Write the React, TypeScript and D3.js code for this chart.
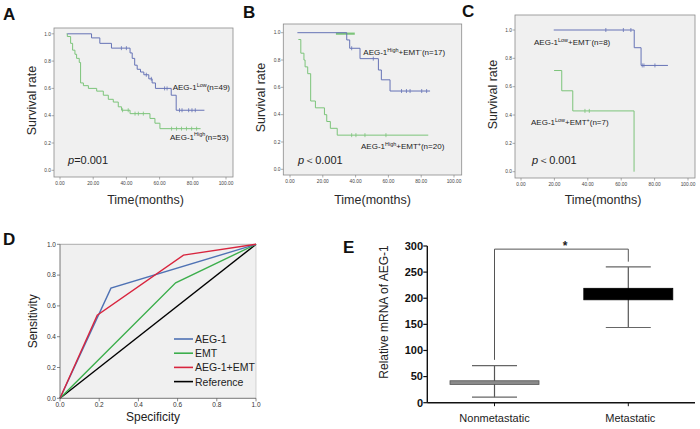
import React, { useEffect } from "react";
import * as d3 from "d3";

const FONT = "'Liberation Sans', Arial, Helvetica, sans-serif";
const KM_BLUE = "#6673b6";
const KM_GREEN = "#7cc47a";

type Step = [number, number];
type Part = [string, boolean];

// ---------- Panel A: AEG-1 low vs high ----------
const aLowStart: Step = [4.4, 1.0];
const aLowSteps: Step[] = [
  [19, 0.97], [24, 0.93], [31, 0.895], [42.2, 0.86], [43.5, 0.82], [45, 0.77],
  [46.5, 0.74], [48.5, 0.72], [50.5, 0.7], [53.5, 0.67], [55.5, 0.64],
  [57.5, 0.6], [67, 0.55], [70, 0.44],
];
const aLowCensored = [37, 40, 52, 55, 63, 64.5, 72, 73.5, 77.5, 79.5, 81.5];
const aLowEnd = 87;

const aHighStart: Step = [4.0, 1.0];
const aHighSteps: Step[] = [
  [4.4, 0.98], [6.4, 0.93], [7.6, 0.88], [9, 0.85], [10, 0.82], [11.6, 0.79],
  [12.4, 0.64], [14.1, 0.62], [17.1, 0.6], [22.1, 0.58], [26.1, 0.55],
  [29.1, 0.52], [32.1, 0.5], [35.1, 0.465], [37.1, 0.44], [42.2, 0.415],
  [54.2, 0.38], [57.2, 0.345], [60.2, 0.305],
];
const aHighCensored = [37.7, 41.1, 45.2, 47.2, 50.2, 67.2, 70.2, 73.2, 76.2, 79.3, 82.3];
const aHighEnd = 84.7;

// ---------- Panel B: AEG-1 high, EMT- vs EMT+ ----------
const bNegStart: Step = [4.5, 1.0];
const bNegSteps: Step[] = [
  [34.6, 0.947], [36.4, 0.886], [42.7, 0.81], [53.9, 0.727], [55.7, 0.655], [61, 0.573],
];
const bNegCensored = [37.6, 50.8, 68, 71, 73.2, 80.3, 83.3];
const bNegEnd = 85.4;
const bOverlap: [number, number] = [28, 39.5];

const bPosStart: Step = [5.1, 0.95];
const bPosSteps: Step[] = [
  [6.6, 0.85], [8.5, 0.8], [9.2, 0.75], [10.8, 0.7], [12.6, 0.5], [15.5, 0.45],
  [21, 0.4], [22.4, 0.35], [24.6, 0.3], [28.8, 0.25],
];
const bPosCensored = [37.6, 40.2, 45.7, 58.5];
const bPosEnd = 84.3;

// ---------- Panel C: AEG-1 low, EMT- vs EMT+ ----------
const cNegStart: Step = [19.6, 1.0];
const cNegSteps: Step[] = [[67.8, 0.875], [71.9, 0.75]];
const cNegCensored = [50.8, 61.3, 65.8, 72.6, 73.6, 80.2];
const cNegEnd = 88;

const cPosStart: Step = [19.8, 0.714];
const cPosSteps: Step[] = [[24.4, 0.571], [31, 0.429], [67.7, 0.0]];
const cPosCensored = [38.3, 40.9];
const cPosEnd = 67.7;

const kmXTicks = [0, 20, 40, 60, 80, 100];
const kmYTicks = [0, 0.2, 0.4, 0.6, 0.8, 1.0];

// ---------- Panel D: ROC ----------
const rocAeg: Step[] = [[0, 0], [0.26, 0.715], [1, 1]];
const rocEmt: Step[] = [[0, 0], [0.59, 0.75], [1, 1]];
const rocBoth: Step[] = [[0, 0], [0.19, 0.54], [0.63, 0.93], [1, 1]];
const rocRef: Step[] = [[0, 0], [1, 1]];
const rocNames = ["AEG-1", "EMT", "AEG-1+EMT", "Reference"];
const rocColors = ["#4f72b4", "#3cae4c", "#d8253e", "#000000"];
const rocTicks = [0, 0.2, 0.4, 0.6, 0.8, 1.0];

// ---------- Panel E: box plot ----------
const eGroups = ["Nonmetastatic", "Metastatic"];
const eQ1 = [35, 197];
const eQ3 = [42, 219];
const eMin = [10.5, 144];
const eMax = [71, 260];
const eBracket = [82, 294, 270]; // left foot, top, right foot
const eTicks = [0, 50, 100, 150, 200, 250, 300];

function survAt(start: Step, steps: Step[], t: number) {
  let s = start[1];
  for (const [ti, si] of steps) if (ti <= t) s = si;
  return s;
}

function RichText({ x, y, parts, size }: { x: number; y: number; parts: Part[]; size: number }) {
  let shift = 0;
  return (
    <text x={x} y={y} fontFamily={FONT} fontSize={size} fill="#222">
      {parts.map(([txt, sup], i) => {
        const target = sup ? -size * 0.38 : 0;
        const dy = target - shift;
        shift = target;
        return (
          <tspan key={i} dy={dy} fontSize={sup ? size * 0.68 : size}>
            {txt}
          </tspan>
        );
      })}
    </text>
  );
}

interface Curve {
  start: Step;
  steps: Step[];
  censored: number[];
  end: number;
  color: string;
}

interface KMProps {
  box: [number, number, number, number];
  xr: [number, number];
  yr: [number, number];
  curves: Curve[];
  extra?: (x: d3.ScaleLinear<number, number>, y: d3.ScaleLinear<number, number>) => React.ReactNode;
  letter: string;
  letterPos: [number, number];
  titleShift?: number;
  children?: React.ReactNode;
}

function KMPanel({ box, xr, yr, curves, extra, letter, letterPos, titleShift = 0, children }: KMProps) {
  const [l, t, r, b] = box;
  const x = d3.scaleLinear().domain([0, 100]).range(xr);
  const y = d3.scaleLinear().domain([0, 1]).range(yr);
  const line = d3
    .line<Step>()
    .x((d) => x(d[0]))
    .y((d) => y(d[1]))
    .curve(d3.curveStepAfter);
  const cx = (l + r) / 2 + titleShift;
  return (
    <g>
      <rect x={l} y={t} width={r - l} height={b - t} fill="#f0f0f0" stroke="#8a8a8a" strokeWidth={0.8} />
      {kmYTicks.map((v) => (
        <g key={v}>
          <line x1={l - 2.5} x2={l} y1={y(v)} y2={y(v)} stroke="#777" strokeWidth={0.6} />
          <text x={l - 3} y={y(v) + 1.7} fontFamily={FONT} fontSize={4.8} fill="#444" textAnchor="end">
            {v.toFixed(1)}
          </text>
        </g>
      ))}
      {kmXTicks.map((v) => (
        <g key={v}>
          <line x1={x(v)} x2={x(v)} y1={b} y2={b + 2.5} stroke="#777" strokeWidth={0.6} />
          <text x={x(v)} y={b + 7.5} fontFamily={FONT} fontSize={4.8} fill="#444" textAnchor="middle">
            {v.toFixed(2)}
          </text>
        </g>
      ))}
      {extra && extra(x, y)}
      {curves.map((c, i) => {
        const pts: Step[] = [c.start, ...c.steps, [c.end, c.steps.length ? c.steps[c.steps.length - 1][1] : c.start[1]]];
        return (
          <g key={i}>
            <path d={line(pts) as string} fill="none" stroke={c.color} strokeWidth={1} />
            {c.censored.map((ct, j) => {
              const sy = y(survAt(c.start, c.steps, ct));
              return <line key={j} x1={x(ct)} x2={x(ct)} y1={sy - 2} y2={sy + 2} stroke={c.color} strokeWidth={0.8} />;
            })}
          </g>
        );
      })}
      <text
        transform={`translate(${l - 18},${(t + b) / 2 - 2}) rotate(-90)`}
        fontFamily={FONT}
        fontSize={12.5}
        fill="#2a2a2a"
        textAnchor="middle"
      >
        Survival rate
      </text>
      <text x={cx} y={204} fontFamily={FONT} fontSize={12.5} fill="#2a2a2a" textAnchor="middle">
        Time(months)
      </text>
      <text x={letterPos[0]} y={letterPos[1]} fontFamily={FONT} fontSize={17} fontWeight="bold" fill="#111">
        {letter}
      </text>
      {children}
    </g>
  );
}

function PValue({ x, y, rest }: { x: number; y: number; rest: string }) {
  return (
    <text x={x} y={y} fontFamily={FONT} fontSize={11} fill="#222">
      <tspan fontStyle="italic">p</tspan>
      {rest}
    </text>
  );
}

function RocPanel() {
  const l = 60, t = 244.3, r = 256, b = 398.3;
  const x = d3.scaleLinear().domain([0, 1]).range([l, r]);
  const y = d3.scaleLinear().domain([0, 1]).range([b, t]);
  const line = d3
    .line<Step>()
    .x((d) => x(d[0]))
    .y((d) => y(d[1]));
  const series = [rocAeg, rocEmt, rocBoth, rocRef];
  const drawOrder = [3, 1, 0, 2];
  return (
    <g>
      <rect x={l} y={t} width={r - l} height={b - t} fill="#f0f0f0" />
      <line x1={l} x2={r} y1={t} y2={t} stroke="#999" strokeWidth={0.8} />
      <line x1={r} x2={r} y1={t} y2={b} stroke="#bbb" strokeWidth={0.6} />
      {drawOrder.map((i) => (
        <path key={i} d={line(series[i]) as string} fill="none" stroke={rocColors[i]} strokeWidth={1.4} />
      ))}
      <line x1={l} x2={l} y1={t} y2={b} stroke="#555" strokeWidth={0.8} />
      <line x1={l} x2={r} y1={b} y2={b} stroke="#555" strokeWidth={0.8} />
      {rocTicks.map((v) => (
        <g key={v}>
          <line x1={l - 3} x2={l} y1={y(v)} y2={y(v)} stroke="#555" strokeWidth={0.7} />
          <text x={l - 4} y={y(v) + 2.2} fontFamily={FONT} fontSize={6.5} fill="#333" textAnchor="end">
            {v.toFixed(1)}
          </text>
          <line x1={x(v)} x2={x(v)} y1={b} y2={b + 3} stroke="#555" strokeWidth={0.7} />
          <text x={x(v)} y={b + 8.5} fontFamily={FONT} fontSize={6.5} fill="#333" textAnchor="middle">
            {v.toFixed(1)}
          </text>
        </g>
      ))}
      {rocNames.map((n, i) => (
        <g key={n}>
          <line x1={174} x2={193} y1={339 + i * 14.2} y2={339 + i * 14.2} stroke={rocColors[i]} strokeWidth={1.6} />
          <text x={195} y={343 + i * 14.2} fontFamily={FONT} fontSize={10.5} fill="#222">
            {n}
          </text>
        </g>
      ))}
      <text transform={`translate(37,${(t + b) / 2}) rotate(-90)`} fontFamily={FONT} fontSize={12} fill="#222" textAnchor="middle">
        Sensitivity
      </text>
      <text x={153} y={421} fontFamily={FONT} fontSize={12} fill="#222" textAnchor="middle">
        Specificity
      </text>
      <text x={3} y={245} fontFamily={FONT} fontSize={17} fontWeight="bold" fill="#111">
        D
      </text>
    </g>
  );
}

function BoxPanel() {
  const axX = 427.3, axEnd = 695;
  const y = d3.scaleLinear().domain([0, 300]).range([402.7, 246]);
  const x = d3.scalePoint<string>().domain(eGroups).range([494.5, 628.3]);
  const boxHalf = 44.5, capHalf = 22.5;
  const fills = ["#8a8a8a", "#000000"];
  const strokes = ["#555", "#000"];
  const base = y(0);
  return (
    <g>
      {eGroups.map((g, i) => {
        const cx = x(g) as number;
        return (
          <g key={g}>
            <line x1={cx} x2={cx} y1={y(eMin[i])} y2={y(eMax[i])} stroke="#555" strokeWidth={1.2} />
            <line x1={cx - capHalf} x2={cx + capHalf} y1={y(eMax[i])} y2={y(eMax[i])} stroke="#666" strokeWidth={1.2} />
            <line x1={cx - capHalf} x2={cx + capHalf} y1={y(eMin[i])} y2={y(eMin[i])} stroke="#666" strokeWidth={1.2} />
            <rect
              x={cx - boxHalf}
              y={y(eQ3[i])}
              width={boxHalf * 2}
              height={y(eQ1[i]) - y(eQ3[i])}
              fill={fills[i]}
              stroke={strokes[i]}
              strokeWidth={0.8}
            />
            <line x1={cx} x2={cx} y1={base} y2={base + 3.5} stroke="#111" strokeWidth={1} />
            <text x={cx + (i === 1 ? 2 : 0)} y={421.5} fontFamily={FONT} fontSize={11} fill="#222" textAnchor="middle">
              {g}
            </text>
          </g>
        );
      })}
      <path
        d={`M${x(eGroups[0])},${y(eBracket[0])}V${y(eBracket[1])}H${x(eGroups[1])}V${y(eBracket[2])}`}
        fill="none"
        stroke="#555"
        strokeWidth={1}
      />
      <text x={565} y={250} fontFamily={FONT} fontSize={12} fontWeight="bold" fill="#222" textAnchor="middle">
        *
      </text>
      <line x1={axX} x2={axX} y1={y(300)} y2={base} stroke="#111" strokeWidth={1.4} />
      <line x1={axX} x2={axEnd} y1={base} y2={base} stroke="#111" strokeWidth={1.4} />
      {eTicks.map((v) => (
        <g key={v}>
          <line x1={axX - 4} x2={axX} y1={y(v)} y2={y(v)} stroke="#111" strokeWidth={1.2} />
          <text x={423} y={y(v) + 3.8} fontFamily={FONT} fontSize={11} fontWeight="bold" fill="#111" textAnchor="end">
            {v}
          </text>
        </g>
      ))}
      <text transform="translate(388,312) rotate(-90)" fontFamily={FONT} fontSize={12} fill="#222" textAnchor="middle">
        Relative mRNA of AEG-1
      </text>
      <text x={343} y={253} fontFamily={FONT} fontSize={17} fontWeight="bold" fill="#111">
        E
      </text>
    </g>
  );
}

export default function App() {
  useEffect(() => {
    document.body.style.margin = "0";
  }, []);

  return (
    <svg width={700} height={429} viewBox="0 0 700 429" style={{ display: "block", background: "#fff" }}>
      <KMPanel
        box={[54, 28, 233, 177]}
        xr={[60, 226]}
        yr={[170.3, 33.8]}
        letter="A"
        letterPos={[3, 20]}
        titleShift={2}
        curves={[
          { start: aHighStart, steps: aHighSteps, censored: aHighCensored, end: aHighEnd, color: KM_GREEN },
          { start: aLowStart, steps: aLowSteps, censored: aLowCensored, end: aLowEnd, color: KM_BLUE },
        ]}
      >
        <RichText x={172.7} y={90} size={8} parts={[["AEG-1", false], ["Low", true], ["(n=49)", false]]} />
        <RichText x={170} y={139.5} size={8} parts={[["AEG-1", false], ["High", true], ["(n=53)", false]]} />
        <PValue x={68} y={163.5} rest="=0.001" />
      </KMPanel>

      <KMPanel
        box={[283.3, 24, 461.7, 175]}
        xr={[290, 454]}
        yr={[169.3, 32.7]}
        letter="B"
        letterPos={[243, 18]}
        curves={[
          { start: bPosStart, steps: bPosSteps, censored: bPosCensored, end: bPosEnd, color: KM_GREEN },
          { start: bNegStart, steps: bNegSteps, censored: bNegCensored, end: bNegEnd, color: KM_BLUE },
        ]}
        extra={(x, y) => (
          <line x1={x(bOverlap[0])} x2={x(bOverlap[1])} y1={y(0.993)} y2={y(0.993)} stroke={KM_GREEN} strokeWidth={2.2} />
        )}
      >
        <RichText
          x={363.3}
          y={55}
          size={8}
          parts={[["AEG-1", false], ["High", true], ["+EMT", false], ["-", true], ["(n=17)", false]]}
        />
        <RichText
          x={361}
          y={149}
          size={8}
          parts={[["AEG-1", false], ["High", true], ["+EMT", false], ["+", true], ["(n=20)", false]]}
        />
        <PValue x={298} y={163.5} rest="＜0.001" />
      </KMPanel>

      <KMPanel
        box={[515, 15, 695, 178]}
        xr={[521, 688]}
        yr={[171.7, 30]}
        letter="C"
        letterPos={[462, 17]}
        titleShift={-2}
        curves={[
          { start: cPosStart, steps: cPosSteps, censored: cPosCensored, end: cPosEnd, color: KM_GREEN },
          { start: cNegStart, steps: cNegSteps, censored: cNegCensored, end: cNegEnd, color: KM_BLUE },
        ]}
      >
        <RichText
          x={534}
          y={45}
          size={8}
          parts={[["AEG-1", false], ["Low", true], ["+EMT", false], ["-", true], ["(n=8)", false]]}
        />
        <RichText
          x={531}
          y={125}
          size={8}
          parts={[["AEG-1", false], ["Low", true], ["+EMT", false], ["+", true], ["(n=7)", false]]}
        />
        <PValue x={532} y={163.5} rest="＜0.001" />
      </KMPanel>

      <RocPanel />
      <BoxPanel />
    </svg>
  );
}
